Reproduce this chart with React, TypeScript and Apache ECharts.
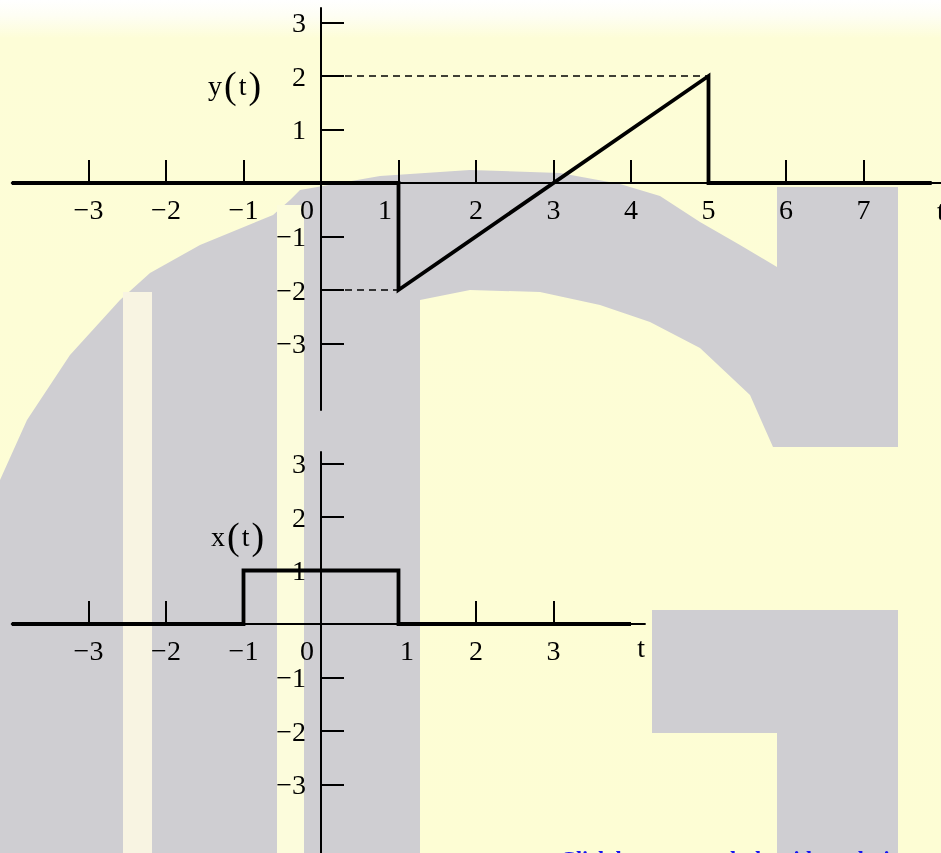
import React, { useEffect, useRef } from "react";
import * as echarts from "echarts";

// ---------- data ----------
const tTicksTop = [-3, -2, -1, 0, 1, 2, 3, 4, 5, 6, 7];
const tTicksBottom = [-3, -2, -1, 0, 1, 2, 3];
const ampTicks = [-3, -2, -1, 1, 2, 3];

// y(t): zero, jump to -2 at t=1, ramp to 2 at t=5, back to zero
const yTimes = [-3.99, 1, 1, 5, 5, 7.88];
const yValues = [0, 0, -2, 2, 0, 0];

// x(t): rectangular pulse of height 1 between -1 and 1
const xTimes = [-3.99, -1, -1, 1, 1, 4];
const xValues = [0, 0, 1, 1, 0, 0];

// dashed guide lines of y(t)
const guideHighT = [0, 5];
const guideHighV = [2, 2];
const guideLowT = [0, 1];
const guideLowV = [-2, -2];

// ---------- layout ----------
const W = 941;
const H = 853;
const FONT = '"Liberation Serif","Times New Roman",serif';
const FS = 28;
const PX_T = 77.5; // px per unit of t
const PX_A = 53.5; // px per unit of amplitude
const X0 = 321; // pixel of t = 0
const T_MIN = -3.99;
const T_MAX_TOP = 8.05;
const T_MAX_BOT = 4.18;
const TOP_Y0 = 183, TOP_START = 8, TOP_END = 410;
const BOT_Y0 = 624, BOT_START = 452, BOT_END = 853;
const GRID_LEFT = X0 + T_MIN * PX_T;

const zip = (a: number[], b: number[]) => a.map((v, i) => [v, b[i]]);
const fmt = (v: number) => (v < 0 ? "\u2212" + Math.abs(v) : String(v));

function xAxisDef(grid: number, max: number, offset: number, ticks: number[], shifts: Record<number, number[]>, nameGap: number, nameAlign: string, namePad: number) {
  const rich: any = {};
  const keys = Object.keys(shifts).map(Number);
  keys.forEach((k, i) => {
    rich["s" + i] = { fontFamily: FONT, fontSize: FS, color: "#000", padding: shifts[k] };
  });
  return {
    type: "value",
    gridIndex: grid,
    position: "bottom",
    offset,
    min: T_MIN,
    max,
    axisLine: { show: true, onZero: false, lineStyle: { color: "#000", width: 2 } },
    axisTick: { show: true, inside: true, length: 23, customValues: ticks, lineStyle: { color: "#000", width: 2 } },
    axisLabel: {
      show: true,
      customValues: ticks,
      margin: 12,
      color: "#000",
      fontFamily: FONT,
      fontSize: FS,
      formatter: (v: number) => {
        const idx = keys.indexOf(v);
        return idx >= 0 ? "{s" + idx + "|" + fmt(v) + "}" : fmt(v);
      },
      rich,
    },
    splitLine: { show: false },
    name: "t",
    nameLocation: "end",
    nameGap,
    nameTextStyle: { color: "#000", fontFamily: FONT, fontSize: FS, align: nameAlign, verticalAlign: "top", padding: [namePad, 0, 0, 0] },
  };
}

function yAxisDef(grid: number, min: number, max: number) {
  return {
    type: "value",
    gridIndex: grid,
    position: "left",
    offset: -(X0 - GRID_LEFT),
    min,
    max,
    axisLine: { show: true, onZero: false, lineStyle: { color: "#000", width: 2 } },
    axisTick: { show: true, inside: true, length: 23, customValues: ampTicks, lineStyle: { color: "#000", width: 2 } },
    axisLabel: { show: true, customValues: ampTicks, margin: 15, color: "#000", fontFamily: FONT, fontSize: FS, formatter: (v: number) => fmt(v) },
    splitLine: { show: false },
  };
}

function lineSeries(xi: number, data: number[][], width: number, dashed: boolean) {
  return {
    type: "line",
    xAxisIndex: xi,
    yAxisIndex: xi,
    data,
    symbol: "none",
    silent: true,
    z: dashed ? 3 : 4,
    lineStyle: { color: "#000", width, type: dashed ? [7, 5] : "solid", cap: "butt", join: "miter" },
  };
}

function signalLabel(x: number, y: number, letter: string) {
  return {
    type: "text",
    x,
    y,
    z: 5,
    style: {
      text: "{a|" + letter + "}{p|(}{a|t}{p|)}",
      verticalAlign: "middle",
      rich: {
        a: { fontFamily: FONT, fontSize: 28, fill: "#000", padding: [0, 1, 0, 1] },
        p: { fontFamily: FONT, fontSize: 38, fill: "#000", padding: [0, 1, 0, 1] },
      },
    },
  };
}

const GRAY = "#cfced2";
const gBody = [
  [0, 480], [27, 420], [70, 355], [120, 300], [150, 273], [200, 245], [273, 215], [290, 200],
  [300, 190], [380, 176], [470, 170], [560, 173], [620, 184], [660, 196], [700, 222], [740, 245],
  [777, 267], [777, 187], [898, 187], [898, 447], [773, 447], [750, 395], [700, 348], [650, 322],
  [600, 305], [540, 292], [470, 290], [420, 300], [420, H], [0, H],
];

export default function App() {
  const ref = useRef<HTMLDivElement>(null);
  useEffect(() => {
    if (!ref.current) return;
    const chart = echarts.init(ref.current, undefined, { renderer: "svg" });
    const gridTop = {
      left: GRID_LEFT,
      top: TOP_START,
      width: (T_MAX_TOP - T_MIN) * PX_T,
      height: TOP_END - TOP_START,
      containLabel: false,
      outerBoundsMode: "none",
    };
    const gridBot = {
      left: GRID_LEFT,
      top: BOT_START,
      width: (T_MAX_BOT - T_MIN) * PX_T,
      height: BOT_END - BOT_START,
      containLabel: false,
      outerBoundsMode: "none",
    };
    const option: any = {
      animation: false,
      grid: [gridTop, gridBot],
      xAxis: [
        xAxisDef(0, T_MAX_TOP, -(TOP_END - TOP_Y0), tTicksTop, { 0: [0, 28, 0, 0], 1: [0, 27, 0, 0] }, -8, "left", 13),
        xAxisDef(1, T_MAX_BOT, -(BOT_END - BOT_Y0), tTicksBottom, { 0: [0, 28, 0, 0], 1: [0, 0, 0, 17] }, 0, "right", 9),
      ],
      yAxis: [
        yAxisDef(0, -(TOP_END - TOP_Y0) / PX_A, (TOP_Y0 - TOP_START) / PX_A),
        yAxisDef(1, -(BOT_END - BOT_Y0) / PX_A, (BOT_Y0 - BOT_START) / PX_A),
      ],
      series: [
        lineSeries(0, zip(guideHighT, guideHighV), 1.5, true),
        lineSeries(0, zip(guideLowT, guideLowV), 1.5, true),
        lineSeries(0, zip(yTimes, yValues), 3.8, false),
        lineSeries(1, zip(xTimes, xValues), 3.8, false),
      ],
      graphic: [
        {
          type: "rect",
          z: -100,
          shape: { x: 0, y: 0, width: W, height: H },
          style: {
            fill: new echarts.graphic.LinearGradient(0, 0, 0, 1, [
              { offset: 0, color: "#ffffff" },
              { offset: 0.018, color: "#fefef4" },
              { offset: 0.045, color: "#fdfdd7" },
              { offset: 1, color: "#fdfdd4" },
            ]),
          },
        },
        { type: "polygon", z: -90, shape: { points: gBody }, style: { fill: GRAY } },
        { type: "rect", z: -90, shape: { x: 652, y: 610, width: 246, height: 123 }, style: { fill: GRAY } },
        { type: "rect", z: -90, shape: { x: 777, y: 733, width: 121, height: 120 }, style: { fill: GRAY } },
        { type: "rect", z: -80, shape: { x: 123, y: 292, width: 29, height: H - 292 }, style: { fill: "#f8f4e2" } },
        { type: "rect", z: -80, shape: { x: 277, y: 205, width: 27, height: H - 205 }, style: { fill: "#fcfcdc" } },
        signalLabel(207, 85, "y"),
        signalLabel(210, 536, "x"),
        {
          type: "text",
          x: 560,
          y: 847,
          z: 5,
          style: {
            text: "Click here to watch the video solution",
            fill: "#1414f0",
            fontFamily: FONT,
            fontSize: 22,
            fontWeight: "bold",
            verticalAlign: "top",
          },
        },
      ],
    };
    chart.setOption(option);
    return () => chart.dispose();
  }, []);
  return <div ref={ref} style={{ position: "fixed", left: 0, top: 0, width: W, height: H }} />;
}
